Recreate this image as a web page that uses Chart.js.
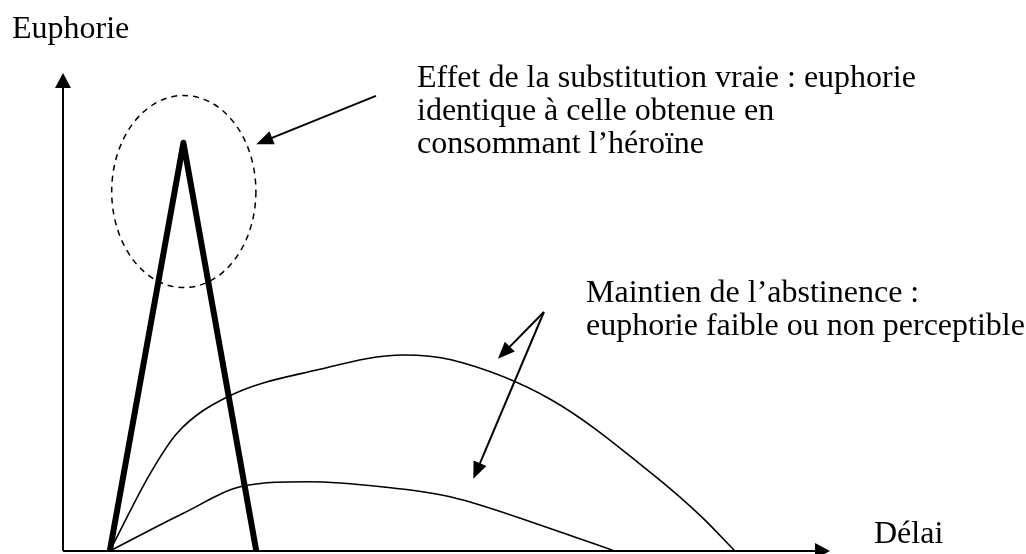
<!DOCTYPE html>
<html lang="fr">
<head>
  <meta charset="UTF-8" />
  <title>Euphorie et délai</title>
  <script src="https://cdn.jsdelivr.net/npm/chart.js"></script>
  <style>
    body {
      margin: 0;
      background: #ffffff;
    }
    #wrap {
      position: relative;
      width: 1026px;
      height: 554px;
    }
  </style>
</head>
<body>
  <div id="wrap"><canvas id="graphe"></canvas></div>

  <script>
    // --- données (délai en x, euphorie en y, échelle 0-100) ---
    const picX = [6.1, 15.7, 25.2];
    const picY = [0, 85.4, 0];

    const hautX = [6.1, 11.4, 14.9, 21.4, 33.2, 44.4, 50.6, 63.7, 76.7, 83.3, 87.6];
    const hautY = [0, 16.3, 24.7, 32.2, 37.9, 41.0, 40.0, 31.6, 16.3, 7.1, 0];

    const basX = [6.1, 15.7, 23.5, 31.9, 41.8, 50.6, 63.7, 71.9];
    const basY = [0, 7.9, 13.6, 14.5, 13.4, 11.3, 4.6, 0];

    const titreY = "Euphorie";
    const titreX = "Délai";
    const noteSubstitution = [
      "Effet de la substitution vraie : euphorie",
      "identique à celle obtenue en",
      "consommant l\u2019héroïne"
    ];
    const noteAbstinence = [
      "Maintien de l\u2019abstinence :",
      "euphorie faible ou non perceptible"
    ];

    const points = (xs, ys) => xs.map((x, i) => ({ x: x, y: ys[i] }));

    function fleche(ctx, x1, y1, x2, y2, longueur, demi) {
      const a = Math.atan2(y2 - y1, x2 - x1);
      ctx.beginPath();
      ctx.moveTo(x1, y1);
      ctx.lineTo(x2 - Math.cos(a) * longueur * 0.8, y2 - Math.sin(a) * longueur * 0.8);
      ctx.stroke();
      ctx.beginPath();
      ctx.moveTo(x2, y2);
      ctx.lineTo(x2 - Math.cos(a) * longueur - Math.sin(a) * demi, y2 - Math.sin(a) * longueur + Math.cos(a) * demi);
      ctx.lineTo(x2 - Math.cos(a) * longueur + Math.sin(a) * demi, y2 - Math.sin(a) * longueur - Math.cos(a) * demi);
      ctx.closePath();
      ctx.fill();
    }

    const decor = {
      id: "decor",
      beforeDatasetsDraw(chart) {
        const ctx = chart.ctx;
        const a = chart.chartArea;
        ctx.save();
        ctx.strokeStyle = "#000";
        ctx.fillStyle = "#000";
        ctx.lineWidth = 2;
        // axes avec flèches
        fleche(ctx, a.left, a.bottom, a.left, a.top, 15, 8);
        fleche(ctx, a.left, a.bottom, a.right, a.bottom, 15, 8);
        ctx.restore();
      },
      afterDatasetsDraw(chart) {
        const ctx = chart.ctx;
        const sx = chart.scales.x;
        const sy = chart.scales.y;
        const px = v => sx.getPixelForValue(v);
        const py = v => sy.getPixelForValue(v);
        ctx.save();
        ctx.strokeStyle = "#000";
        ctx.fillStyle = "#000";

        // ellipse pointillée autour du pic
        ctx.lineWidth = 1.5;
        ctx.setLineDash([6, 5]);
        ctx.beginPath();
        ctx.ellipse(px(15.75), py(75.2), px(15.75 + 9.4) - px(15.75), py(75.2) - py(75.2 + 20.1), 0, 0, Math.PI * 2);
        ctx.stroke();
        ctx.setLineDash([]);

        // flèches des annotations
        ctx.lineWidth = 2;
        fleche(ctx, px(40.8), py(95.2), px(25.2), py(85.1), 17, 7);
        fleche(ctx, px(62.7), py(50.0), px(56.7), py(40.2), 17, 7);
        fleche(ctx, px(62.7), py(50.0), px(53.5), py(15.1), 17, 7);

        // textes
        ctx.font = "32px 'Liberation Serif', 'Times New Roman', serif";
        ctx.textBaseline = "alphabetic";
        ctx.fillText(titreY, 12, 38);
        ctx.fillText(titreX, 874, 543);
        noteSubstitution.forEach((t, i) => ctx.fillText(t, 417, 87 + i * 33));
        noteAbstinence.forEach((t, i) => ctx.fillText(t, 586, 302 + i * 33));
        ctx.restore();
      }
    };

    new Chart(document.getElementById("graphe"), {
      type: "line",
      data: {
        datasets: [
          {
            label: "Substitution vraie",
            data: points(picX, picY),
            borderColor: "#000",
            borderWidth: 6,
            borderJoinStyle: "round",
            tension: 0,
            pointRadius: 0
          },
          {
            label: "Abstinence (haut)",
            data: points(hautX, hautY),
            borderColor: "#000",
            borderWidth: 1.6,
            cubicInterpolationMode: "monotone",
            pointRadius: 0
          },
          {
            label: "Abstinence (bas)",
            data: points(basX, basY),
            borderColor: "#000",
            borderWidth: 1.6,
            cubicInterpolationMode: "monotone",
            pointRadius: 0
          }
        ]
      },
      options: {
        responsive: true,
        maintainAspectRatio: false,
        animation: false,
        layout: { padding: { left: 63, right: 196, top: 73, bottom: 3 } },
        plugins: {
          legend: { display: false },
          tooltip: { enabled: false }
        },
        scales: {
          x: { type: "linear", min: 0, max: 100, display: false },
          y: { type: "linear", min: 0, max: 100, display: false }
        }
      },
      plugins: [decor]
    });
  </script>
</body>
</html>
